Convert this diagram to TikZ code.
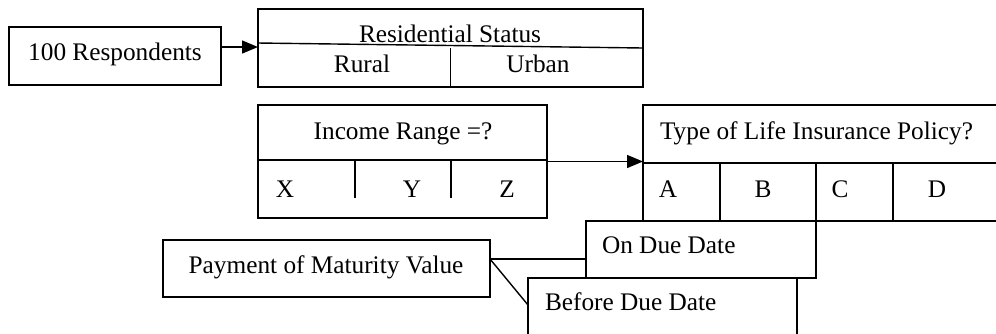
\documentclass[tikz,border=0pt]{standalone}
\usepackage{fontspec}
\setmainfont{Liberation Serif}
\usetikzlibrary{arrows.meta,calc}
\begin{document}
\begin{tikzpicture}[x=1pt,y=-1pt,line width=1.4pt,
  lbl/.style={inner sep=0pt,outer sep=0pt,font=\fontsize{25.3}{30}\selectfont},
  box/.style={draw,rectangle,inner sep=0pt,outer sep=0pt},
  frame/.style={rectangle,inner sep=0pt,outer sep=0pt},
  arr/.style={-{Triangle[length=16pt,width=13pt]}}]
\useasboundingbox (0,0) rectangle (996,333);
% boxes
\node[box,minimum width=212pt,minimum height=58pt] (resp) at (115,56) {};
\node[box,minimum width=385pt,minimum height=78pt] (rs) at (450.5,48) {};
\node[box,minimum width=289pt,minimum height=113pt] (inc) at (402.5,161.5) {};
\node[frame,minimum width=353pt,minimum height=116pt] (typ) at (819.5,163) {};
\node[box,minimum width=230pt,minimum height=57pt] (ondue) at (701,249.5) {};
\node[frame,minimum width=269pt,minimum height=62pt] (before) at (662.5,309) {};
\node[box,minimum width=327pt,minimum height=57pt] (pay) at (326.5,268.5) {};
% open frames
\draw (typ.north east) -- (typ.north west) -- (typ.south west) -- (typ.south east);
\draw (before.south west) -- (before.north west) -- (before.north east) -- (before.south east);
% dividers
\draw ($(rs.north west)!0.436!(rs.south west)$) -- ($(rs.north east)!0.5!(rs.south east)$);
\draw (rs.center) -- (rs.south);
\draw ($(inc.north west)!0.487!(inc.south west)$) -- ($(inc.north east)!0.487!(inc.south east)$);
\draw (355,160) -- (355,198);
\draw (451,160) -- (451,198);
\draw (typ.west) -- (typ.east);
\draw (720,163) -- (720,221);
\draw (816,163) -- (816,221);
\draw (893,163) -- (893,221);
% labels
\node[lbl,anchor=base] (tresp) at (115,60) {100 Respondents};
\node[lbl,anchor=base] (trs) at (450,42) {Residential Status};
\node[lbl,anchor=base] (trural) at (362,72) {Rural};
\node[lbl,anchor=base] (turban) at (538,72) {Urban};
\node[lbl,anchor=base] (tinc) at (403,139) {Income Range =?};
\node[lbl,anchor=base] (tx) at (285,197) {X};
\node[lbl,anchor=base] (ty) at (412,197) {Y};
\node[lbl,anchor=base] (tz) at (507,197) {Z};
\node[lbl,anchor=base west] (ttyp) at (660,139) {Type of Life Insurance Policy?};
\node[lbl,anchor=base] (ta) at (668,197) {A};
\node[lbl,anchor=base] (tb) at (763,197) {B};
\node[lbl,anchor=base] (tc) at (840,197) {C};
\node[lbl,anchor=base] (td) at (937,197) {D};
\node[lbl,anchor=base west] (tond) at (602,253) {On Due Date};
\node[lbl,anchor=base west] (tbef) at (545,310) {Before Due Date};
\node[lbl,anchor=base] (tpay) at (326,273) {Payment of Maturity Value};
% connectors
\coordinate (rj) at ($(resp.north east)!0.345!(resp.south east)$);
\draw[arr] (rj) -- (rj -| rs.west);
\draw[arr] (inc.east) -- (inc.east -| typ.west);
\coordinate (pj) at ($(pay.north east)!0.333!(pay.south east)$);
\coordinate (bj) at ($(before.north west)!0.435!(before.south west)$);
\draw (pj) -- (pj -| ondue.west);
\draw (pj) -- (bj);
\end{tikzpicture}
\end{document}
